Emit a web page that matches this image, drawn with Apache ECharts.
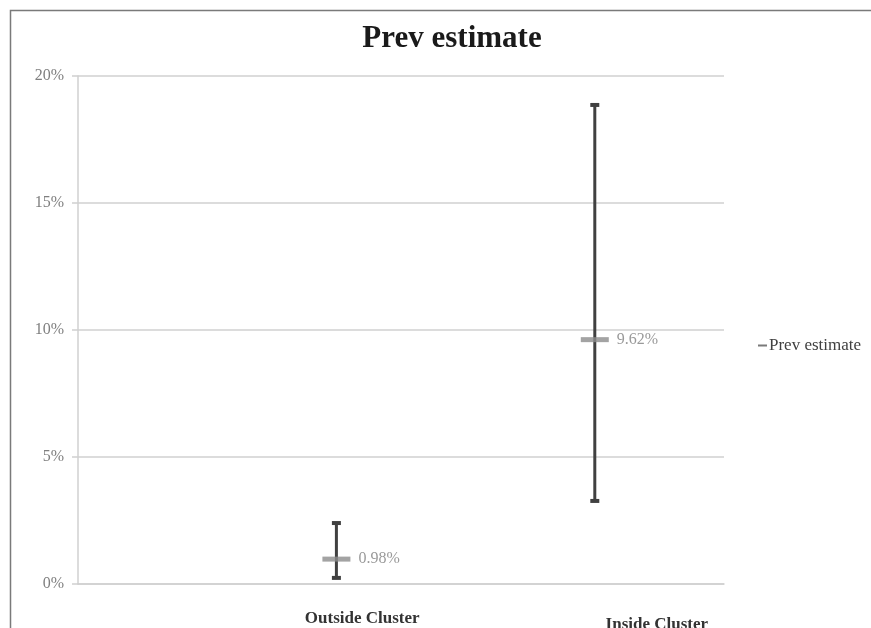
<!DOCTYPE html>
<html>
<head>
<meta charset="utf-8">
<script src="https://cdn.jsdelivr.net/npm/echarts@6/dist/echarts.min.js"></script>
<style>html,body{margin:0;padding:0;background:#fff;}#c{width:871px;height:628px;}</style>
</head>
<body>
<div id="c"></div>
<script>
const title = 'Prev estimate';
const seriesName = 'Prev estimate';
const categories = ['Outside Cluster', 'Inside Cluster'];
const estimates = [0.98, 9.62];
const lowerCI = [0.24, 3.27];
const upperCI = [2.40, 18.86];
const yMin = 0, yMax = 20, yStep = 5;
const labelPositions = [1.10, 2.24];

const chart = echarts.init(document.getElementById('c'));
const FONT = '"Liberation Serif", "Times New Roman", serif';

const estData = estimates.map((v, i) => [i + 1, v]);
const ciData = categories.map((c, i) => [i + 1, lowerCI[i], upperCI[i]]);

chart.setOption({
  animation: false,
  backgroundColor: '#fff',
  graphic: [{
    type: 'rect', left: 8, top: 8, z: 100,
    shape: { width: 1000, height: 1000 },
    style: { fill: 'none', stroke: '#7a7a7a', lineWidth: 1.5 }
  }],
  title: {
    text: title, left: 447, top: 18, textAlign: 'center',
    textStyle: { fontFamily: FONT, fontWeight: 'bold', fontSize: 31, color: '#1a1a1a' }
  },
  legend: {
    data: [seriesName], orient: 'vertical', left: 753, top: 332,
    icon: 'rect', itemWidth: 9, itemHeight: 2, itemGap: 4,
    itemStyle: { color: '#595959' },
    textStyle: { fontFamily: FONT, fontSize: 17, color: '#404040', padding: [0, 0, 0, -3] }
  },
  grid: { left: 78, right: 147, top: 76, bottom: 44, outerBoundsMode: 'none', containLabel: false },
  xAxis: [{
    type: 'value', min: 0, max: 2.5, interval: 0.5,
    axisLine: { show: true, lineStyle: { color: '#d0d0d0', width: 1.5 } },
    axisTick: { show: false },
    splitLine: { show: false },
    axisLabel: {
      customValues: labelPositions,
      margin: 26,
      fontFamily: FONT,
      formatter: function (v) {
        const i = labelPositions.indexOf(v);
        if (i < 0) return '';
        return i === 1 ? '{b|' + categories[i] + '}' : '{a|' + categories[i] + '}';
      },
      rich: {
        a: { fontFamily: FONT, fontWeight: 'bold', fontSize: 17, color: '#333' },
        b: { fontFamily: FONT, fontWeight: 'bold', fontSize: 17, color: '#333', padding: [6, 0, 0, 0] }
      }
    }
  }],
  yAxis: {
    type: 'value', min: yMin, max: yMax, interval: yStep,
    axisLine: { show: true, lineStyle: { color: '#d0d0d0', width: 1.5 } },
    axisTick: { show: true, length: 6, lineStyle: { color: '#d0d0d0', width: 1.5 } },
    splitLine: { show: true, lineStyle: { color: '#d0d0d0', width: 1.5 } },
    axisLabel: {
      margin: 14, formatter: '{value}%',
      fontFamily: FONT, fontSize: 16, color: '#7f7f7f'
    }
  },
  series: [
    {
      type: 'custom', name: 'CI', silent: true, z: 2,
      data: ciData,
      encode: { x: 0, y: [1, 2] },
      renderItem: function (params, api) {
        const x = api.value(0);
        const pLo = api.coord([x, api.value(1)]);
        const pHi = api.coord([x, api.value(2)]);
        const cap = 4.5;
        const st = { stroke: '#404040', lineWidth: 3 };
        const cs = { stroke: '#404040', lineWidth: 4 };
        return {
          type: 'group', children: [
            { type: 'line', shape: { x1: pLo[0], y1: pLo[1], x2: pHi[0], y2: pHi[1] }, style: st },
            { type: 'line', shape: { x1: pHi[0] - cap, y1: pHi[1], x2: pHi[0] + cap, y2: pHi[1] }, style: cs },
            { type: 'line', shape: { x1: pLo[0] - cap, y1: pLo[1], x2: pLo[0] + cap, y2: pLo[1] }, style: cs }
          ]
        };
      }
    },
    {
      type: 'scatter', name: seriesName, z: 5,
      data: estData,
      symbol: 'rect', symbolSize: [28, 5],
      itemStyle: { color: '#8c8c8c' },
      label: {
        show: true, position: 'right', distance: 8,
        fontFamily: FONT, fontSize: 16, color: '#7f7f7f',
        formatter: function (p) { return p.value[1].toFixed(2) + '%'; }
      }
    }
  ]
});
</script>
</body>
</html>
